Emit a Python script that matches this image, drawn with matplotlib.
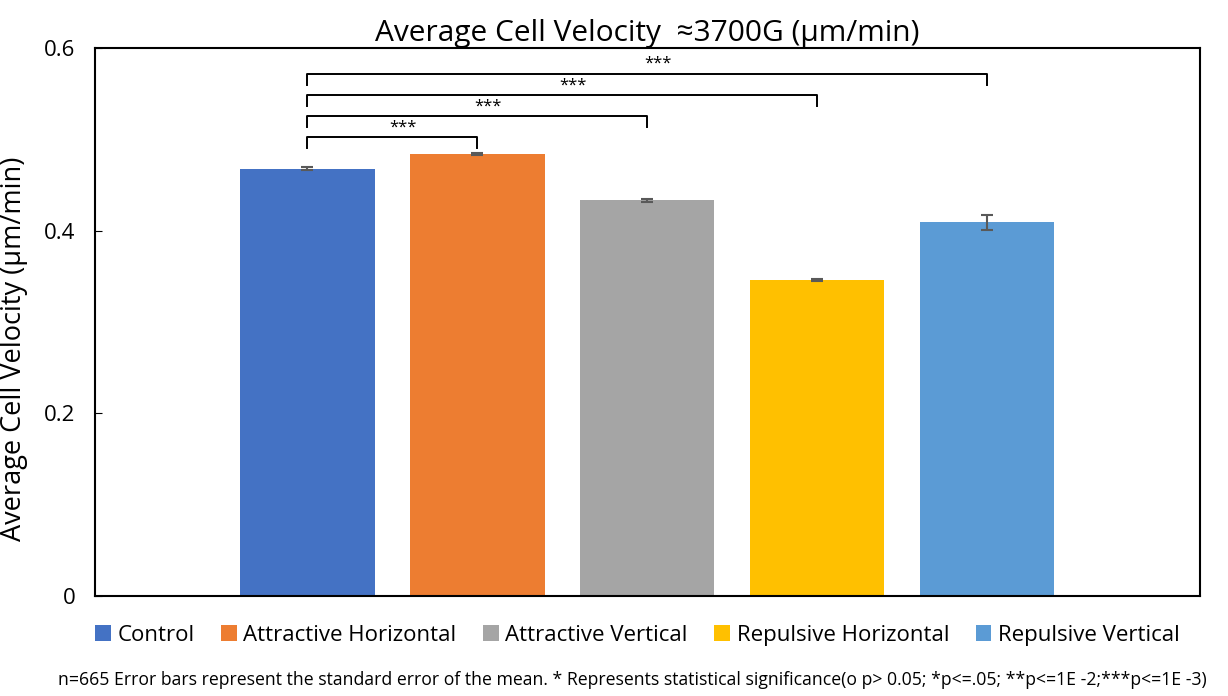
import matplotlib.pyplot as plt
from matplotlib.patches import Patch

plt.rcParams['font.family'] = ['Open Sans', 'DejaVu Sans']

groups = ['Control', 'Attractive Horizontal', 'Attractive Vertical',
          'Repulsive Horizontal', 'Repulsive Vertical']
velocity = [0.468, 0.484, 0.433, 0.346, 0.409]
sem = [0.002, 0.001, 0.002, 0.001, 0.008]
colors = ['#4472C4', '#ED7D31', '#A5A5A5', '#FFC000', '#5B9BD5']

# significance brackets: (from, to, height, label)
brackets = [(0, 1, 0.502, '***'), (0, 2, 0.525, '***'),
            (0, 3, 0.548, '***'), (0, 4, 0.572, '***')]

fig = plt.figure(figsize=(12.28, 6.96), dpi=100)
ax = fig.add_axes([0.0774, 0.144, 0.8995, 0.787])

x = list(range(len(groups)))
ax.bar(x, velocity, width=0.79, color=colors, zorder=2)
ax.errorbar(x, velocity, yerr=sem, fmt='none', ecolor='#595959',
            elinewidth=1.5, capsize=4, capthick=1.5, zorder=3)

drop = 0.012
for a, b, h, lab in brackets:
    ax.plot([a, a, b, b], [h - drop, h, h, h - drop], color='black', lw=1.4,
            zorder=4)
    ax.text((a + b) / 2 + 0.06, h + 0.002, lab, ha='center', va='bottom',
            fontsize=12)

ax.set_xlim(-1.25, 5.25)
ax.set_ylim(0, 0.6)
ax.set_xticks([])
ax.set_yticks([0, 0.2, 0.4, 0.6])
ax.set_yticklabels(['0', '0.2', '0.4', '0.6'], fontsize=16)
ax.tick_params(axis='y', direction='in', length=5, pad=14)
for s in ax.spines.values():
    s.set_linewidth(1.5)

ax.set_ylabel('Average Cell Velocity (μm/min)', fontsize=19.5)
ax.yaxis.set_label_coords(-0.061, 0.45)
ax.set_title('Average Cell Velocity  ≈3700G (μm/min)', fontsize=21.5, pad=5)

handles = [Patch(facecolor=c) for c in colors]
fig.legend(handles, groups, loc='center', bbox_to_anchor=(0.519, 0.087),
           ncol=5, frameon=False, fontsize=16, handlelength=0.7,
           handleheight=0.7, handletextpad=0.3, columnspacing=1.2)

fig.text(0.515, 0.023,
         'n=665 Error bars represent the standard error of the mean. * Represents statistical '
         'significance(o p> 0.05; *p<=.05; **p<=1E -2;***p<=1E -3)',
         ha='center', va='center', fontsize=12.7)

fig.savefig('out.png', dpi=100)
